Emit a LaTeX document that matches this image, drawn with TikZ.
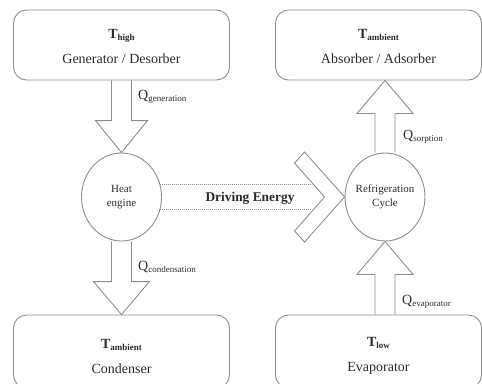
\documentclass[tikz,border=0pt]{standalone}
\usepackage{fontspec}
\setmainfont{Liberation Serif}
\usetikzlibrary{calc,shapes.geometric}
\definecolor{ln}{HTML}{8C8C8C}
\definecolor{tx}{HTML}{2A2A2A}
\newcommand\sbs[1]{\raisebox{-0.35ex}{\fontsize{9}{9}\selectfont #1}}
\tikzset{
  boxnode/.style={draw=ln, line width=0.9pt, rounded corners=13pt, inner sep=0pt},
  boxtext/.style={text=tx, align=center, font=\fontsize{14}{25}\selectfont},
  cyc/.style={draw=ln, line width=0.9pt, ellipse, minimum width=80pt, minimum height=88pt, inner sep=0pt},
  cyctext/.style={text=tx, align=center, font=\fontsize{11}{14}\selectfont},
  blk/.style={draw=ln, line width=0.9pt, line join=miter},
  qlab/.style={text=tx, anchor=west, inner sep=0pt, font=\fontsize{14}{16}\selectfont},
  dotln/.style={draw=ln, line width=0.8pt, dash pattern=on 1pt off 1pt}
}
\begin{document}
\begin{tikzpicture}[x=1pt,y=-1pt]
\useasboundingbox (0,0) rectangle (482,383);
\clip (0,0) rectangle (482,383);
% boxes
\node[boxnode, minimum width=216pt, minimum height=70pt] (gen) at (121.5,45) {};
\node[boxtext] (gent) at (121.5,46) {\textbf{T}\sbs{\textbf{high}}\\Generator / Desorber};
\node[boxnode, minimum width=206pt, minimum height=70pt] (abs) at (378.5,45) {};
\node[boxtext] (abst) at (378.5,46) {\textbf{T}\sbs{\textbf{ambient}}\\Absorber / Adsorber};
\node[boxnode, minimum width=216pt, minimum height=73pt] (con) at (121.5,351.5) {};
\node[boxtext] (cont) at (121.5,356) {\textbf{T}\sbs{\textbf{ambient}}\\Condenser};
\node[boxnode, minimum width=206pt, minimum height=73pt] (eva) at (378.5,351.5) {};
\node[boxtext] (evat) at (378.5,356) {\textbf{T}\sbs{\textbf{low}}\\Evaporator};
% cycles
\node[cyc] (he) at (121.5,197) {};
\node[cyctext] (het) at (he.center) {Heat\\engine};
\node[cyc] (rc) at (385,197) {};
\node[cyctext] (rct) at (rc.center) {Refrigeration\\Cycle};
% block arrow: generator -> heat engine
\draw[blk] ([shift={(-10,0)}]gen.south -| he.north) -- ([shift={(-10,-32)}]he.north)
  -- ([shift={(-26,-32)}]he.north) -- (he.north) -- ([shift={(26,-32)}]he.north)
  -- ([shift={(10,-32)}]he.north) -- ([shift={(10,0)}]gen.south -| he.north);
% heat engine -> condenser
\draw[blk] ([shift={(-10,0)}]he.south) -- ([shift={(-10,-33)}]he.south |- con.north)
  -- ([shift={(-28,-33)}]he.south |- con.north) -- (he.south |- con.north)
  -- ([shift={(28,-33)}]he.south |- con.north) -- ([shift={(10,-33)}]he.south |- con.north)
  -- ([shift={(10,0)}]he.south);
% refrigeration -> absorber
\draw[blk] ([shift={(-10,0)}]rc.north) -- ([shift={(-10,33)}]rc.north |- abs.south)
  -- ([shift={(-28,33)}]rc.north |- abs.south) -- (rc.north |- abs.south)
  -- ([shift={(28,33)}]rc.north |- abs.south) -- ([shift={(10,33)}]rc.north |- abs.south)
  -- ([shift={(10,0)}]rc.north);
% evaporator -> refrigeration
\draw[blk] ([shift={(-10,0)}]rc.south |- eva.north) -- ([shift={(-10,33)}]rc.south)
  -- ([shift={(-28,33)}]rc.south) -- (rc.south) -- ([shift={(28,33)}]rc.south)
  -- ([shift={(10,33)}]rc.south) -- ([shift={(10,0)}]rc.south |- eva.north);
% driving energy
\draw[dotln] ([shift={(-1.6,-12.5)}]he.east) -- ([shift={(-32.4,-12.5)}]rc.west);
\draw[dotln] ([shift={(-1.6,12.5)}]he.east) -- ([shift={(-32.4,12.5)}]rc.west);
\draw[blk] (rc.west) -- ([shift={(-40,-45)}]rc.west) -- ([shift={(-50,-34)}]rc.west)
  -- ([shift={(-20,0)}]rc.west) -- ([shift={(-50,34)}]rc.west) -- ([shift={(-40,45)}]rc.west) -- cycle;
\node[text=tx, font=\fontsize{13.4}{15}\bfseries] (de) at (250,198) {Driving Energy};
% labels
\node[qlab] (qg) at (138,97) {Q\sbs{generation}};
\node[qlab] (qc) at (138,267) {Q\sbs{condensation}};
\node[qlab] (qs) at (403,137) {Q\sbs{sorption}};
\node[qlab] (qe) at (402,302) {Q\sbs{evaporator}};
\end{tikzpicture}
\end{document}
